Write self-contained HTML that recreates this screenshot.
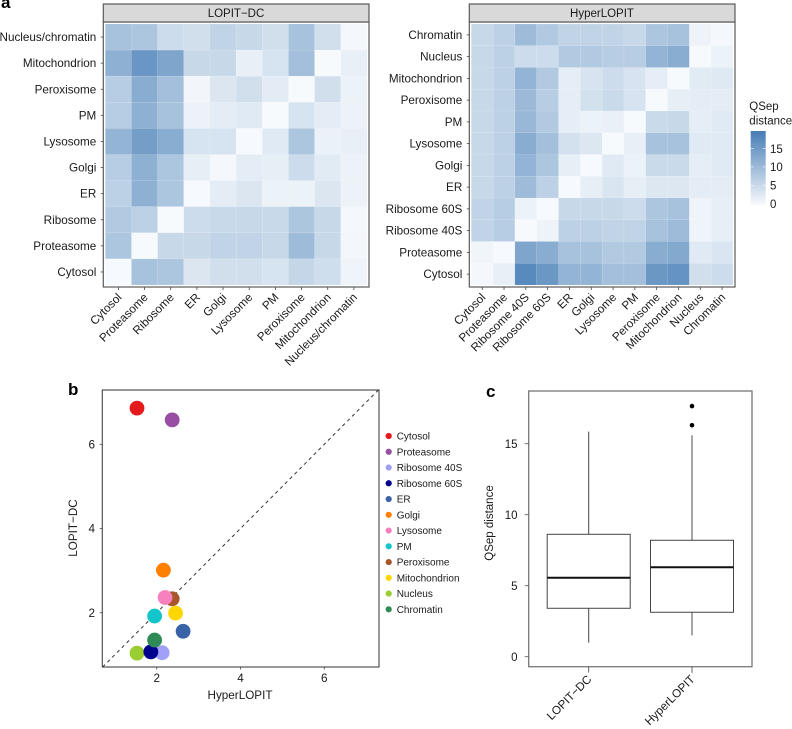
<!DOCTYPE html>
<html lang="en">
<head>
<meta charset="utf-8">
<title>QSep distance comparison of LOPIT-DC and HyperLOPIT</title>
<style>
html,body{margin:0;padding:0;background:#fff;}
svg{display:block;filter:blur(0.3px);}
text{font-family:"Liberation Sans",sans-serif;fill:#1a1a1a;}
.tl{font-size:11.7px;}
.pl{font-size:17px;font-weight:bold;fill:#000;}
</style>
</head>
<body>
<svg id="fig" xmlns="http://www.w3.org/2000/svg" width="792" height="729" viewBox="0 0 792 729">
  <text class="pl" x="1" y="8">a</text>
  <text class="pl" x="68" y="395">b</text>
  <text class="pl" x="486" y="397">c</text>

  <g id="heatL"></g>
  <g id="heatR"></g>
  <rect x="103.3" y="4" width="265.7" height="18" fill="#d9d9d9" stroke="#5a5a5a" stroke-width="1.2"/>
  <text x="236" y="17" text-anchor="middle" font-size="11.5">LOPIT−DC</text>
  <rect x="469.3" y="4" width="265.7" height="18" fill="#d9d9d9" stroke="#5a5a5a" stroke-width="1.2"/>
  <text x="602" y="17" text-anchor="middle" font-size="11.5">HyperLOPIT</text>

  <g>
    <defs><linearGradient id="cbGrad" x1="0" y1="1" x2="0" y2="0"><stop offset="0" stop-color="#f8fafd"/><stop offset="1" stop-color="#467db6"/></linearGradient></defs>
    <text x="749.3" y="110" font-size="11.5">QSep</text>
    <text x="749.3" y="124.5" font-size="11.5">distance</text>
    <rect x="750.7" y="131" width="15" height="74" fill="url(#cbGrad)"/>
    <g id="cbTicks"></g>
  </g>

  <g id="scatter"></g>
  <text x="240" y="699" text-anchor="middle" font-size="11.7">HyperLOPIT</text>
  <text transform="translate(77,528) rotate(-90)" text-anchor="middle" font-size="11.7">LOPIT−DC</text>
  <g id="legend"></g>

  <g id="box"></g>
  <text transform="translate(493,523) rotate(-90)" text-anchor="middle" font-size="11.5">QSep distance</text>
</svg>
<script>
/* ---------- data: heatmaps ---------- */
const lopitRows = ["Nucleus/chromatin","Mitochondrion","Peroxisome","PM","Lysosome","Golgi","ER","Ribosome","Proteasome","Cytosol"];
const lopitCols = ["Cytosol","Proteasome","Ribosome","ER","Golgi","Lysosome","PM","Peroxisome","Mitochondrion","Nucleus/chromatin"];
const lopitValues = [
  [9,8.4,5,4.5,6.2,5.6,4.5,9,4.5,0.6],
  [11.8,15.8,13.4,5.6,5.6,2,3.9,9.5,0.3,2],
  [7.3,12.3,9.5,0.9,3.4,4.5,2.5,0.3,4.5,1.6],
  [7.3,11.8,9,1.5,2.4,2.8,0.3,3.9,2.4,1.5],
  [11.2,14.6,12.3,3.9,3.9,0.4,2.8,8.4,1.7,2],
  [7.3,11.8,8.4,2.2,0.6,2.4,2.2,5,2.7,1.5],
  [6.7,11.8,8.4,0.4,2.4,3.4,1.6,1.6,3.4,1.5],
  [7.8,6.7,0.3,5,5.4,5.6,5.4,8.4,5.6,0.7],
  [8.4,0.3,5.6,5.6,6.2,6.2,5.6,10,5.6,0.8],
  [0.4,9,8.4,3.4,4.5,4.5,3.9,5.9,4.7,1.2]
];
const hyperRows = ["Chromatin","Nucleus","Mitochondrion","Peroxisome","PM","Lysosome","Golgi","ER","Ribosome 60S","Ribosome 40S","Proteasome","Cytosol"];
const hyperCols = ["Cytosol","Proteasome","Ribosome 40S","Ribosome 60S","ER","Golgi","Lysosome","PM","Peroxisome","Mitochondrion","Nucleus","Chromatin"];
const hyperValues = [
  [5.6,6.7,10,7.8,6.2,6.2,6.2,5.6,8.4,9,1.4,0.6],
  [5.6,6.7,5,5,7.8,7.8,7.3,7.3,11.2,12.3,0.3,1.6],
  [5.6,6.7,11.2,7.8,2.3,3.8,5,3.8,2.3,0.3,2.7,2.9],
  [5.6,6.7,10.2,7.3,2.3,4.2,5.3,3.8,0.3,2.2,2.4,2.4],
  [5.6,6.7,10.6,7.8,2.3,1.6,1.8,0.3,5.3,5.6,2.3,2.8],
  [5.6,6.7,12.3,9.5,4.2,3.2,0.3,2,9,9,2.8,2.8],
  [5.6,6.7,11.2,8.4,2.2,0.4,2.8,1.6,5.3,5.3,2.3,2.8],
  [5.6,6.7,10,6.7,0.4,2.2,3.6,2.2,3.2,3.2,2.4,2.4],
  [6.2,7.3,1.6,0.4,5.6,5.6,5.6,5,8.4,9,1.3,2.2],
  [6.2,7.3,0.3,1.4,6.7,6.7,6.2,6.2,9,10,1.3,2.2],
  [1.1,0.4,13.4,12.3,9,9,7.8,7.8,12.3,12.9,2.8,3.6],
  [0.6,2,17.6,15.7,11.2,11.2,9.5,9.5,15.7,16.2,4.5,5]
];
const colorbarTicks = [0,5,10,15];

/* ---------- data: scatter ---------- */
const scatterNames = ["Cytosol","Proteasome","Ribosome 40S","Ribosome 60S","ER","Golgi","Lysosome","PM","Peroxisome","Mitochondrion","Nucleus","Chromatin"];
const scatterHyper = [1.53,2.37,2.13,1.86,2.63,2.16,2.2,1.95,2.37,2.45,1.53,1.95];
const scatterLopit = [6.86,6.58,1.05,1.07,1.56,3.01,2.36,1.92,2.33,1.99,1.04,1.35];
const scatterColors = ["#e41a1c","#984ea3","#a0a0f8","#00008f","#3a62a6","#ff7f00","#f781bf","#12c6cc","#a65628","#ffd700","#9acd32","#2e8b57"];
const scatterDrawOrder = ["Cytosol","Proteasome","Ribosome 40S","Nucleus","Ribosome 60S","ER","Golgi","Peroxisome","Lysosome","PM","Mitochondrion","Chromatin"];
const scatterXTicks = [2,4,6];
const scatterYTicks = [2,4,6];

/* ---------- data: box plot ---------- */
const boxCategories = ["LOPIT−DC","HyperLOPIT"];
const boxWhiskerLow = [0.99,1.5];
const boxQ1 = [3.41,3.13];
const boxMedian = [5.56,6.3];
const boxQ3 = [8.62,8.2];
const boxWhiskerHigh = [15.85,15.6];
const boxOutliers = [[],[16.3,17.65]];
const boxYTicks = [0,5,10,15];

/* ---------- helpers ---------- */
const NS = "http://www.w3.org/2000/svg";
function mk(parent, tag, attrs, txt){
  const el = document.createElementNS(NS, tag);
  for (const k in attrs) el.setAttribute(k, attrs[k]);
  if (txt !== undefined) el.textContent = txt;
  parent.appendChild(el);
  return el;
}
function slug(s){ return String(s).toLowerCase().replace(/[^a-z0-9]+/g,'-'); }
function heatColor(v){
  const t = Math.max(0, Math.min(1, v / 19.8));
  const r = Math.round(250 + (68 - 250) * t);
  const g = Math.round(252 + (124 - 252) * t);
  const b = Math.round(254 + (181 - 254) * t);
  return `rgb(${r},${g},${b})`;
}

/* ---------- heatmaps ---------- */
function drawHeat(g, prefix, rows, cols, vals, px0, px1){
  const cx0 = px0 + 2, cx1 = px1 - 2, cy0 = 24, cy1 = 285;
  const w = (cx1 - cx0) / cols.length, h = (cy1 - cy0) / rows.length;
  const xAt = i => cx0 + i * w;
  const yAt = i => cy0 + i * h;
  const panel = mk(g, 'rect', {x:px0, y:22, width:px1-px0, height:265, fill:'#fff'});
  
  
  rows.forEach((rn, r) => {
    cols.forEach((cn, c) => {
      const cell = mk(g, 'rect', {x:xAt(c), y:yAt(r), width:w, height:h, fill:heatColor(vals[r][c]), stroke:'#fff', 'stroke-opacity':0.14, 'stroke-width':0.6});
      
      
    });
    const yc = yAt(r) + h / 2;
    const tick = mk(g, 'line', {x1:px0-2.5, x2:px0, y1:yc, y2:yc, stroke:'#444', 'stroke-width':0.8});
    
    
    const lab = mk(g, 'text', {x:px0-7, y:yc+4, 'text-anchor':'end', class:'tl'}, rn);
    
    
  });
  cols.forEach((cn, c) => {
    const xc = xAt(c) + w / 2;
    const tick = mk(g, 'line', {x1:xc, x2:xc, y1:287, y2:290, stroke:'#444', 'stroke-width':0.8});
    
    
    const lab = mk(g, 'text', {transform:`translate(${xc+4},${298}) rotate(-45)`, 'text-anchor':'end', class:'tl'}, cn);
    
    
  });
  const border = mk(g, 'rect', {x:px0, y:22, width:px1-px0, height:265, fill:'none', stroke:'#5a5a5a', 'stroke-width':1.2});
  
  
}
drawHeat(document.getElementById('heatL'), 'lopit', lopitRows, lopitCols, lopitValues, 103.3, 369);
drawHeat(document.getElementById('heatR'), 'hyper', hyperRows, hyperCols, hyperValues, 469.3, 735);

const cbY = v => 203.6 - v * 3.67;
const cbG = document.getElementById('cbTicks');
colorbarTicks.forEach(v => {
  const lab = mk(cbG, 'text', {x:770, y:cbY(v)+4.2, 'font-size':11.5}, v);
  
  
  const m1 = mk(cbG, 'line', {x1:750.7, x2:753.7, y1:cbY(v), y2:cbY(v), stroke:'#fff', 'stroke-width':0.6});
  
  
  const m2 = mk(cbG, 'line', {x1:762.7, x2:765.7, y1:cbY(v), y2:cbY(v), stroke:'#fff', 'stroke-width':0.6});
  
  
});

/* ---------- scatter ---------- */
const sX = v => 156.7 + (v - 2) * 41.9;
const sY = v => 612.7 - (v - 2) * 42.1;
const sg = document.getElementById('scatter');
const sBox = {l:102.3, r:379, t:390, b:667};
const sFrame = mk(sg, 'rect', {x:sBox.l, y:sBox.t, width:sBox.r-sBox.l, height:sBox.b-sBox.t, fill:'#fff', stroke:'#444', 'stroke-width':1.1});


const diag = mk(sg, 'line', {x1:sX(0.71), y1:sY(0.71), x2:sX(7.29), y2:sY(7.29), stroke:'#333', 'stroke-width':1, 'stroke-dasharray':'3.4 3.4'});


scatterXTicks.forEach(v => {
  const t = mk(sg, 'line', {x1:sX(v), x2:sX(v), y1:sBox.b, y2:sBox.b+2.5, stroke:'#444', 'stroke-width':0.8});
  
  
  const l = mk(sg, 'text', {x:sX(v), y:682, 'text-anchor':'middle', class:'tl'}, v);
  
  
});
scatterYTicks.forEach(v => {
  const t = mk(sg, 'line', {x1:sBox.l-2.5, x2:sBox.l, y1:sY(v), y2:sY(v), stroke:'#444', 'stroke-width':0.8});
  
  
  const l = mk(sg, 'text', {x:95, y:sY(v)+4.2, 'text-anchor':'end', class:'tl'}, v);
  
  
});
scatterDrawOrder.forEach(n => {
  const i = scatterNames.indexOf(n);
  const p = mk(sg, 'circle', {cx:sX(scatterHyper[i]), cy:sY(scatterLopit[i]), r:7.4, fill:scatterColors[i]});
  
  
});
const lg = document.getElementById('legend');
scatterNames.forEach((n, i) => {
  const y = 436 + i * 15.76;
  const d = mk(lg, 'circle', {cx:388.7, cy:y, r:3.1, fill:scatterColors[i]});
  
  
  const t = mk(lg, 'text', {x:396.7, y:y+3.6, 'font-size':10}, n);
  
  
});

/* ---------- box plot ---------- */
const bY = v => 656.7 - v * 14.2;
const bX = i => 588.7 + i * 103.3;
const bHalf = 41.5;
const bg = document.getElementById('box');
const bBox = {l:528.7, r:752, t:391, b:666.7};
const bFrame = mk(bg, 'rect', {x:bBox.l, y:bBox.t, width:bBox.r-bBox.l, height:bBox.b-bBox.t, fill:'#fff', stroke:'#777', 'stroke-width':1.3});


boxYTicks.forEach(v => {
  const t = mk(bg, 'line', {x1:bBox.l-4, x2:bBox.l, y1:bY(v), y2:bY(v), stroke:'#555', 'stroke-width':0.8});
  
  
  const l = mk(bg, 'text', {x:517.5, y:bY(v)+4.2, 'text-anchor':'end', 'font-size':11.5}, v);
  
  
});
boxCategories.forEach((c, i) => {
  const x = bX(i), nm = slug(c);
  const t = mk(bg, 'line', {x1:x, x2:x, y1:bBox.b, y2:bBox.b+6, stroke:'#555', 'stroke-width':0.9});
  
  
  const l = mk(bg, 'text', {transform:`translate(${x+3.5},${680}) rotate(-45)`, 'text-anchor':'end', class:'tl'}, c);
  
  
  const wU = mk(bg, 'line', {x1:x, x2:x, y1:bY(boxQ3[i]), y2:bY(boxWhiskerHigh[i]), stroke:i ? '#777' : '#444', 'stroke-width':i ? 1.3 : 1});
  
  
  const wL = mk(bg, 'line', {x1:x, x2:x, y1:bY(boxQ1[i]), y2:bY(boxWhiskerLow[i]), stroke:i ? '#777' : '#444', 'stroke-width':i ? 1.3 : 1});
  
  
  const r = mk(bg, 'rect', {x:x-bHalf, y:bY(boxQ3[i]), width:bHalf*2, height:bY(boxQ1[i])-bY(boxQ3[i]), fill:'#fff', stroke:'#444', 'stroke-width':1});
  
  
  const m = mk(bg, 'line', {x1:x-bHalf, x2:x+bHalf, y1:bY(boxMedian[i]), y2:bY(boxMedian[i]), stroke:'#111', 'stroke-width':1.9});
  
  
  boxOutliers[i].forEach(v => {
    const o = mk(bg, 'circle', {cx:x, cy:bY(v), r:2.3, fill:'#000'});
    
    
  });
});
</script>
</body>
</html>
